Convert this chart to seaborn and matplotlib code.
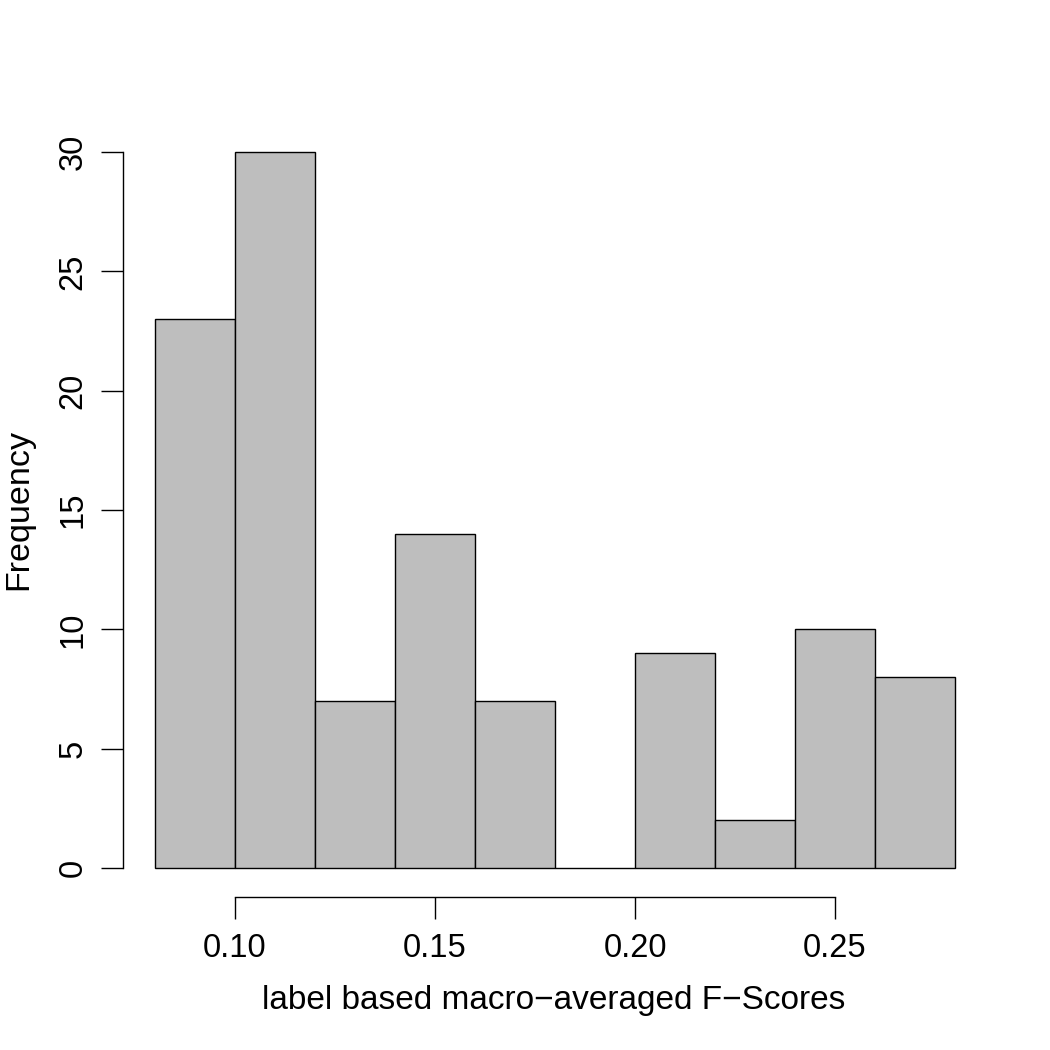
import matplotlib
matplotlib.use("Agg")
import matplotlib.pyplot as plt
import seaborn as sns
import numpy as np

bin_edges = [0.08, 0.10, 0.12, 0.14, 0.16, 0.18, 0.20, 0.22, 0.24, 0.26, 0.28]
counts = [23, 30, 7, 14, 7, 0, 9, 2, 10, 8]
x_ticks = [0.10, 0.15, 0.20, 0.25]
x_tick_labels = ["0.10", "0.15", "0.20", "0.25"]
y_ticks = [0, 5, 10, 15, 20, 25, 30]
x_label = "label based macro\u2212averaged F\u2212Scores"
y_label = "Frequency"

sns.set_theme(style="white")
plt.rcParams['font.family'] = ['Liberation Sans', 'DejaVu Sans']

fig = plt.figure(figsize=(10.5, 10.5), dpi=100)
ax = fig.add_axes([123/1050, 1 - 896.6/1050, (987-123)/1050, (896.6-123.4)/1050])

centers = [(bin_edges[i] + bin_edges[i+1]) / 2 for i in range(len(counts))]
sns.histplot(x=centers, weights=counts, bins=bin_edges, ax=ax,
             color="#BEBEBE", edgecolor="black", linewidth=1.0, alpha=1.0)

ax.set_xlim(0.072, 0.288)
ax.set_ylim(-1.2, 31.2)

for s in ["top", "right"]:
    ax.spines[s].set_visible(False)
for s in ["left", "bottom"]:
    ax.spines[s].set_color("black")
    ax.spines[s].set_linewidth(1.0)
ax.spines["left"].set_bounds(0, 30)
ax.spines["bottom"].set_bounds(0.10, 0.25)

ax.set_xticks(x_ticks)
ax.set_xticklabels(x_tick_labels)
ax.set_yticks(y_ticks)
ax.set_yticklabels([str(v) for v in y_ticks], rotation=90, va="center")
ax.tick_params(axis="both", which="major", direction="out", length=16, width=1.0,
               color="black", labelsize=23.5, labelcolor="black",
               bottom=True, left=True)
ax.tick_params(axis="x", pad=10)
ax.tick_params(axis="y", pad=9)

ax.set_xlabel(x_label, fontsize=24, color="black")
ax.set_ylabel(y_label, fontsize=24.5, color="black")
ax.xaxis.set_label_coords((554 - 123) / (987 - 123), (896.6 - 1000) / (896.6 - 123.4))
ax.yaxis.set_label_coords((19 - 123) / (987 - 123), (896.6 - 510) / (896.6 - 123.4))
ax.xaxis.label.set_va("center")
ax.yaxis.label.set_va("center")
ax.grid(False)

fig.savefig("out.png", dpi=100, facecolor="white")
